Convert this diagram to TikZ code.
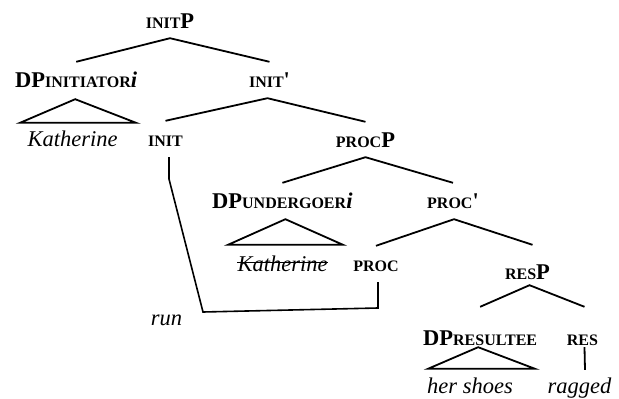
\documentclass[tikz,border=0pt]{standalone}
\usepackage{fontspec}
\setmainfont{Liberation Serif}
\usetikzlibrary{calc}
\newcommand{\smallcp}[1]{{\fontsize{16}{16}\selectfont\bfseries #1}}
\begin{document}
\begin{tikzpicture}[x=1pt,y=-1pt,
  lbl/.style={inner xsep=0pt,inner ysep=10pt,text height=15pt,text depth=0pt,
     font=\fontsize{22.5}{24}\selectfont},
  edge/.style={line width=1.8pt,line join=miter}]
\useasboundingbox (0,0) rectangle (619,399);
% nodes
\node[lbl,anchor=base] (initP) at (170,28) {\smallcp{INIT}\textbf{P}};
\node[lbl,anchor=base west] (dpi) at (15,87) {\textbf{DP}\smallcp{INITIATOR}\textbf{\textit{i}}};
\node[lbl,anchor=base] (initbar) at (269.5,87) {\smallcp{INIT}\textbf{\textquotesingle}};
\node[lbl,anchor=base] (kath1) at (72.5,146) {\textit{Katherine}};
\node[lbl,anchor=base] (init) at (165.5,146) {\smallcp{INIT}};
\node[lbl,anchor=base] (procP) at (365.5,147) {\smallcp{PROC}\textbf{P}};
\node[lbl,anchor=base west] (dpu) at (212,208) {\textbf{DP}\smallcp{UNDERGOER}\textbf{\textit{i}}};
\node[lbl,anchor=base] (procbar) at (453,208) {\smallcp{PROC}\textbf{\textquotesingle}};
\node[lbl,anchor=base] (kath2) at (282.5,271) {\textit{Katherine}};
\node[lbl,anchor=base] (proc) at (376,271) {\smallcp{PROC}};
\node[lbl,anchor=base] (resP) at (527.5,279) {\smallcp{RES}\textbf{P}};
\node[lbl,anchor=base] (run) at (166.5,325) {\textit{run}};
\node[lbl,anchor=base west] (dpr) at (423,345) {\textbf{DP}\smallcp{RESULTEE}};
\node[lbl,anchor=base] (res) at (582.5,345) {\smallcp{RES}};
\node[lbl,anchor=base] (shoes) at (470,393) {\textit{her shoes}};
\node[lbl,anchor=base] (ragged) at (579.5,393) {\textit{ragged}};
% tree edges
\draw[edge] (dpi.north) -- (initP.south) -- (initbar.north);
\draw[edge] (init.north) -- ($(initbar.south)+(-2,1)$) -- (procP.north);
\draw[edge] (dpu.north) -- (procP.south) -- (procbar.north);
\draw[edge] (proc.north) -- ($(procbar.south)+(1,1)$) -- ($(resP.north)+(5,-9)$);
\draw[edge] ($(dpr.north)+(0,-13)$) -- ($(resP.south)+(2,-4)$) -- ($(res.north)+(2,-13)$);
\draw[edge] ($(res.south)+(2,-8)$) -- ($(ragged.north)+(5.5,2)$);
% triangles
\draw[edge] ($(dpi.south)+(-1,2)$) -- ($(kath1.north)+(-52.5,2)$) -- ($(kath1.north)+(63.5,2)$) -- cycle;
\draw[edge] ($(dpu.south)+(3,1)$) -- ($(kath2.north)+(-54.5,-1)$) -- ($(kath2.north)+(60.5,-1)$) -- cycle;
\draw[edge] ($(dpr.south)+(-2,-8)$) -- ($(shoes.north)+(-42,1)$) -- ($(shoes.north)+(65,1)$) -- cycle;
% strike-through
\draw[line width=0.9pt] ([yshift=9pt]kath2.base west) -- ([yshift=9pt]kath2.base east);
% movement line
\coordinate (m1) at (169,179);
\coordinate (m2) at (203,312);
\coordinate (m3) at (378,308);
\draw[edge,line width=1.6pt] ($(init.south)+(3.5,1)$) -- (m1) -- (m2) -- (m3) -- ($(proc.south)+(2,1)$);
\end{tikzpicture}
\end{document}
